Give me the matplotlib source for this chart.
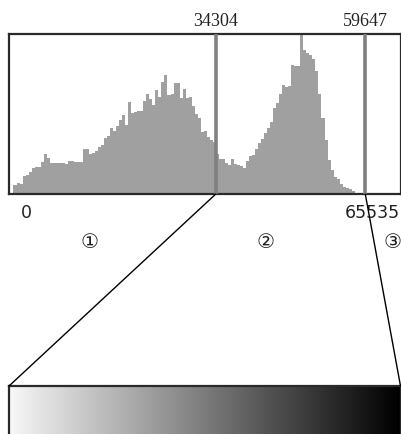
import numpy as np
import matplotlib
matplotlib.use("Agg")
import matplotlib.pyplot as plt
from matplotlib.patches import ConnectionPatch
from matplotlib.transforms import blended_transform_factory

# ─────────────────────────────────────────────
#  Data: 16-bit intensity histogram, 128 bins of 512 levels
# ─────────────────────────────────────────────
BIN_WIDTH = 512
counts = [
    9, 11, 10, 17.5, 18.5, 22, 25.5, 26.5, 26.5, 32,
    39.5, 35.5, 31, 31, 30.5, 31, 31, 29.5, 33, 33,
    32, 32, 32, 44.5, 45, 39.5, 41, 43, 47, 49,
    56, 58, 65.7, 63, 68, 74, 79, 69, 91.7, 80.7,
    81.7, 83.3, 83.3, 93.3, 99.7, 94.7, 89, 104, 97.3, 112.3,
    119, 99, 100, 110.7, 111.3, 96.3, 104.7, 96.3, 97.3, 88,
    80, 75.7, 62, 63, 57, 54, 52, 40, 35, 35,
    31, 29, 35, 30, 29, 28, 26, 33, 38, 39,
    45, 51, 55, 61, 66, 72.3, 85.7, 90.7, 100, 109,
    107, 108, 129, 128, 128, 160, 144, 141, 139.5, 135,
    123, 100, 76, 54, 34, 24, 17, 15, 10, 7,
    5.7, 5, 3, 0, 0, 0, 0, 0, 0, 0,
    0, 0, 0, 0, 0, 0, 0, 0,
]
thresholds = [34304, 59647]
x_min, x_max = 0, 65535
region_labels = ["①", "②", "③"]
region_pos = [12970, 42810, 64180]

BAR = "#a0a0a0"
LINE = "#808080"
FRAME = "#2a2a2a"
TEXT = "#222222"

W, H = 401, 434
fig = plt.figure(figsize=(W / 100, H / 100), dpi=100)

# histogram panel
ax = fig.add_axes([9 / W, (H - 194) / H, 391.5 / W, 160 / H])
edges = np.arange(len(counts)) * BIN_WIDTH
ax.bar(edges, counts, width=BIN_WIDTH, align="edge", color=BAR,
       linewidth=0, zorder=2)
for t in thresholds:
    ax.axvline(t, color=LINE, linewidth=2.6, zorder=3)
ax.set_xlim(-763, 65620)
ax.set_ylim(0, 160)
ax.set_xticks([])
ax.set_yticks([])
for s in ax.spines.values():
    s.set_color(FRAME)
    s.set_linewidth(1.6)

tr = blended_transform_factory(ax.transData, ax.transAxes)
for t in thresholds:
    ax.text(t, 1.075, str(t), transform=tr, ha="center", va="center",
            fontsize=13, family="Liberation Serif", color=TEXT)

ax.annotate("0", xy=(x_min, -0.12), xycoords=tr, xytext=(5, 0),
            textcoords="offset points", ha="left", va="center",
            fontsize=12.5, color=TEXT)
ax.text(x_max, -0.12, "65535", transform=tr, ha="right", va="center",
        fontsize=12.5, color=TEXT)
for lab, p in zip(region_labels, region_pos):
    ax.text(p, -0.305, lab, transform=tr, ha="center", va="center",
            fontsize=14.5, family=["DejaVu Sans", "Noto Sans CJK JP"],
            color=TEXT)

# gradient bar
gax = fig.add_axes([9 / W, (H - 445) / H, 391.5 / W, 59 / H])
grad = np.linspace(0.97, 0.0, 256).reshape(1, -1)
gax.imshow(grad, aspect="auto", cmap="gray", vmin=0, vmax=1,
           extent=[0, 1, 0, 1])
gax.set_xticks([])
gax.set_yticks([])
for s in gax.spines.values():
    s.set_color(FRAME)
    s.set_linewidth(1.6)

# zoom connector lines
for t, xb in zip(thresholds, [0, 1]):
    con = ConnectionPatch(xyA=(t, 0), coordsA=ax.transData,
                          xyB=(xb, 1), coordsB=gax.transAxes,
                          color="black", linewidth=1.0)
    fig.add_artist(con)

fig.savefig("out.png", dpi=100)
